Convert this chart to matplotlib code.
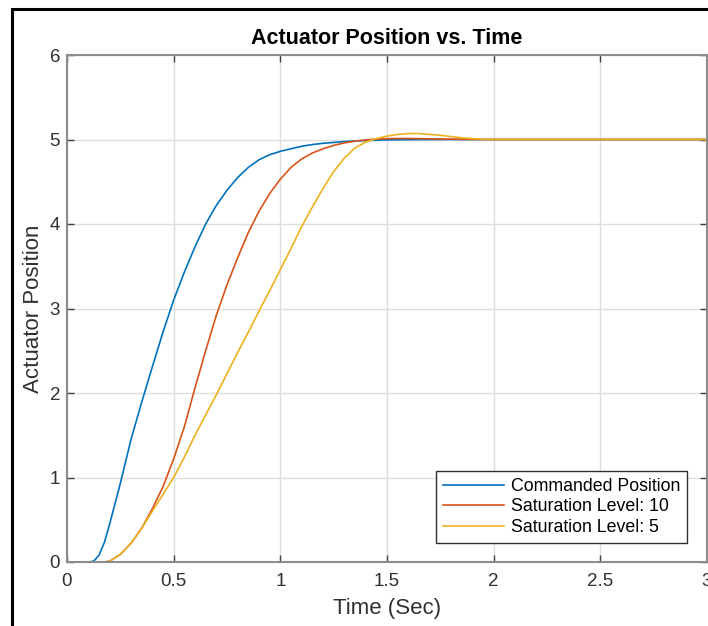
import matplotlib
matplotlib.use("Agg")
import matplotlib.pyplot as plt
from matplotlib.patches import Rectangle

# ---- data ----
time_s = [0.0, 0.05, 0.10, 0.125, 0.15, 0.175, 0.20, 0.25, 0.30, 0.35, 0.40, 0.45,
          0.50, 0.55, 0.60, 0.65, 0.70, 0.75, 0.80, 0.85, 0.90, 0.95, 1.00,
          1.05, 1.10, 1.15, 1.20, 1.25, 1.30, 1.35, 1.40, 1.45, 1.50, 1.55,
          1.60, 1.65, 1.70, 1.75, 1.80, 1.85, 1.90, 1.95, 2.00, 2.50, 3.00]

commanded = [0.0, 0.0, 0.0, 0.01, 0.08, 0.23, 0.45, 0.93, 1.45, 1.89, 2.31, 2.72,
             3.10, 3.43, 3.73, 4.00, 4.22, 4.40, 4.55, 4.67, 4.76, 4.82, 4.86,
             4.89, 4.92, 4.94, 4.955, 4.965, 4.975, 4.982, 4.988, 4.992, 4.995, 4.997,
             4.998, 4.999, 5.0, 5.0, 5.0, 5.0, 5.0, 5.0, 5.0, 5.0, 5.0]

sat_10 = [0.0, 0.0, 0.0, 0.0, 0.0, 0.0, 0.01, 0.09, 0.22, 0.40, 0.63, 0.89,
          1.22, 1.60, 2.06, 2.50, 2.92, 3.28, 3.60, 3.90, 4.15, 4.36, 4.53,
          4.67, 4.77, 4.84, 4.89, 4.93, 4.96, 4.98, 4.995, 5.005, 5.01, 5.012,
          5.012, 5.01, 5.008, 5.006, 5.004, 5.002, 5.001, 5.0, 5.0, 5.0, 5.0]

sat_5 = [0.0, 0.0, 0.0, 0.0, 0.0, 0.0, 0.01, 0.09, 0.22, 0.40, 0.60, 0.80,
         1.00, 1.24, 1.50, 1.74, 1.98, 2.23, 2.48, 2.72, 2.97, 3.21, 3.46,
         3.71, 3.97, 4.20, 4.42, 4.62, 4.78, 4.90, 4.97, 5.01, 5.04, 5.06,
         5.07, 5.07, 5.06, 5.05, 5.035, 5.02, 5.01, 5.004, 5.0, 5.0, 5.0]

series_labels = ["Commanded Position", "Saturation Level: 10", "Saturation Level: 5"]
series_colors = ["#0072BD", "#D95319", "#EDB120"]

x_ticks = [0, 0.5, 1, 1.5, 2, 2.5, 3]
x_tick_labels = ["0", "0.5", "1", "1.5", "2", "2.5", "3"]
y_ticks = [0, 1, 2, 3, 4, 5, 6]

# ---- figure ----
plt.rcParams['font.family'] = ['Liberation Sans', 'DejaVu Sans']
W, H = 708, 626
fig = plt.figure(figsize=(W / 100, H / 100), dpi=100)
fig.patch.set_facecolor("white")

# outer black frame (cropped screenshot border)
fig.patches.append(Rectangle((12 / W, -0.2), 1.5, 1 - 9 / H + 0.2,
                             transform=fig.transFigure, fill=False,
                             edgecolor="black", linewidth=2.2, clip_on=False))

ax = fig.add_axes([67 / W, 64 / H, 640 / W, 507 / H])

for ys, lab, col in zip([commanded, sat_10, sat_5], series_labels, series_colors):
    ax.plot(time_s, ys, color=col, linewidth=1.2, label=lab)

ax.set_xlim(0, 3)
ax.set_ylim(0, 6)
ax.set_xticks(x_ticks)
ax.set_xticklabels(x_tick_labels)
ax.set_yticks(y_ticks)

ax.grid(True, color="#dedede", linewidth=1.0)
ax.set_axisbelow(True)
for s in ax.spines.values():
    s.set_color("#8c8c8c")
    s.set_linewidth(1.5)

ax.tick_params(axis="both", direction="in", length=5, width=1, color="#404040",
               labelsize=13.5, labelcolor="#303030", top=True, right=True)
ax.tick_params(axis="x", pad=8)
ax.tick_params(axis="y", pad=5)

ax.set_title("Actuator Position vs. Time", fontsize=15.5, fontweight="bold",
             pad=8, color="black")
ax.set_xlabel("Time (Sec)", fontsize=16, color="#303030", labelpad=6)
ax.set_ylabel("Actuator Position", fontsize=16, color="#303030", labelpad=4)

leg = ax.legend(loc="lower right", bbox_to_anchor=(0.969, 0.0375),
                borderaxespad=0, fontsize=12.75, handlelength=3.4,
                labelspacing=0.2, fancybox=False, framealpha=1,
                edgecolor="#303030", borderpad=0.4, handletextpad=0.4)
leg.get_frame().set_linewidth(1.0)

fig.savefig("out.png", dpi=100)
